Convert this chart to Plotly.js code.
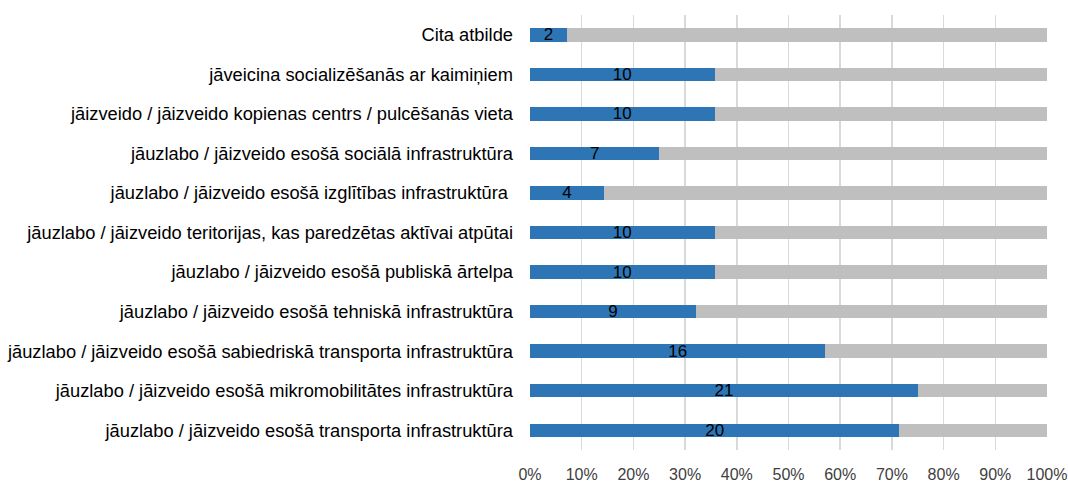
<!DOCTYPE html>
<html>
<head>
<meta charset="utf-8">
<script src="https://cdn.plot.ly/plotly-3.0.1.min.js"></script>
<style>html,body{margin:0;padding:0;background:#fff;}#chart{width:1068px;height:482px;}</style>
</head>
<body>
<div id="chart"></div>
<script>
// Categories, top to bottom as shown
const categories = [
  "Cita atbilde",
  "jāveicina socializēšanās ar kaimiņiem",
  "jāizveido / jāizveido kopienas centrs / pulcēšanās vieta",
  "jāuzlabo / jāizveido esošā sociālā infrastruktūra",
  "jāuzlabo / jāizveido esošā izglītības infrastruktūra\u00A0",
  "jāuzlabo / jāizveido teritorijas, kas paredzētas aktīvai atpūtai",
  "jāuzlabo / jāizveido esošā publiskā ārtelpa",
  "jāuzlabo / jāizveido esošā tehniskā infrastruktūra",
  "jāuzlabo / jāizveido esošā sabiedriskā transporta infrastruktūra",
  "jāuzlabo / jāizveido esošā mikromobilitātes infrastruktūra",
  "jāuzlabo / jāizveido esošā transporta infrastruktūra"
];
// Number of respondents choosing each answer (data labels)
const counts = [2, 10, 10, 7, 4, 10, 10, 9, 16, 21, 20];
// Total respondents (bars are share of total)
const totalRespondents = 28;
const tickVals = [0, 10, 20, 30, 40, 50, 60, 70, 80, 90, 100];
const tickLabels = ["0%", "10%", "20%", "30%", "40%", "50%", "60%", "70%", "80%", "90%", "100%"];

const shares = counts.map(c => c / totalRespondents * 100);
const rest = shares.map(s => 100 - s);

const font = "Liberation Sans, Arial, sans-serif";

const traces = [
  {
    type: "bar", orientation: "h",
    y: categories, x: shares,
    text: counts.map(String),
    textposition: "inside", insidetextanchor: "middle",
    textangle: 0,
    constraintext: "none",
    textfont: {family: font, size: 17, color: "#000000"},
    marker: {color: "#2E75B6"},
    hoverinfo: "none"
  },
  {
    type: "bar", orientation: "h",
    y: categories, x: rest,
    marker: {color: "#BFBFBF"},
    hoverinfo: "none"
  }
];

const layout = {
  width: 1068, height: 482,
  barmode: "stack",
  bargap: 0.66,
  showlegend: false,
  paper_bgcolor: "#ffffff",
  plot_bgcolor: "#ffffff",
  margin: {l: 530, r: 21, t: 15, b: 32, pad: 0},
  font: {family: font, color: "#000000"},
  xaxis: {
    range: [0, 100],
    tickvals: tickVals, ticktext: tickLabels,
    showgrid: true, gridcolor: "#D9D9D9", gridwidth: 1.5,
    zeroline: false, showline: false,
    ticks: "", ticklabelstandoff: 13,
    tickfont: {family: font, size: 16, color: "#404040"},
    fixedrange: true
  },
  yaxis: {
    type: "category",
    autorange: "reversed",
    showgrid: false, zeroline: false, showline: false,
    ticks: "", ticklabelstandoff: 16,
    tickfont: {family: font, size: 18.3, color: "#000000"},
    fixedrange: true
  }
};

Plotly.newPlot("chart", traces, layout, {displayModeBar: false, staticPlot: true});
</script>
</body>
</html>
